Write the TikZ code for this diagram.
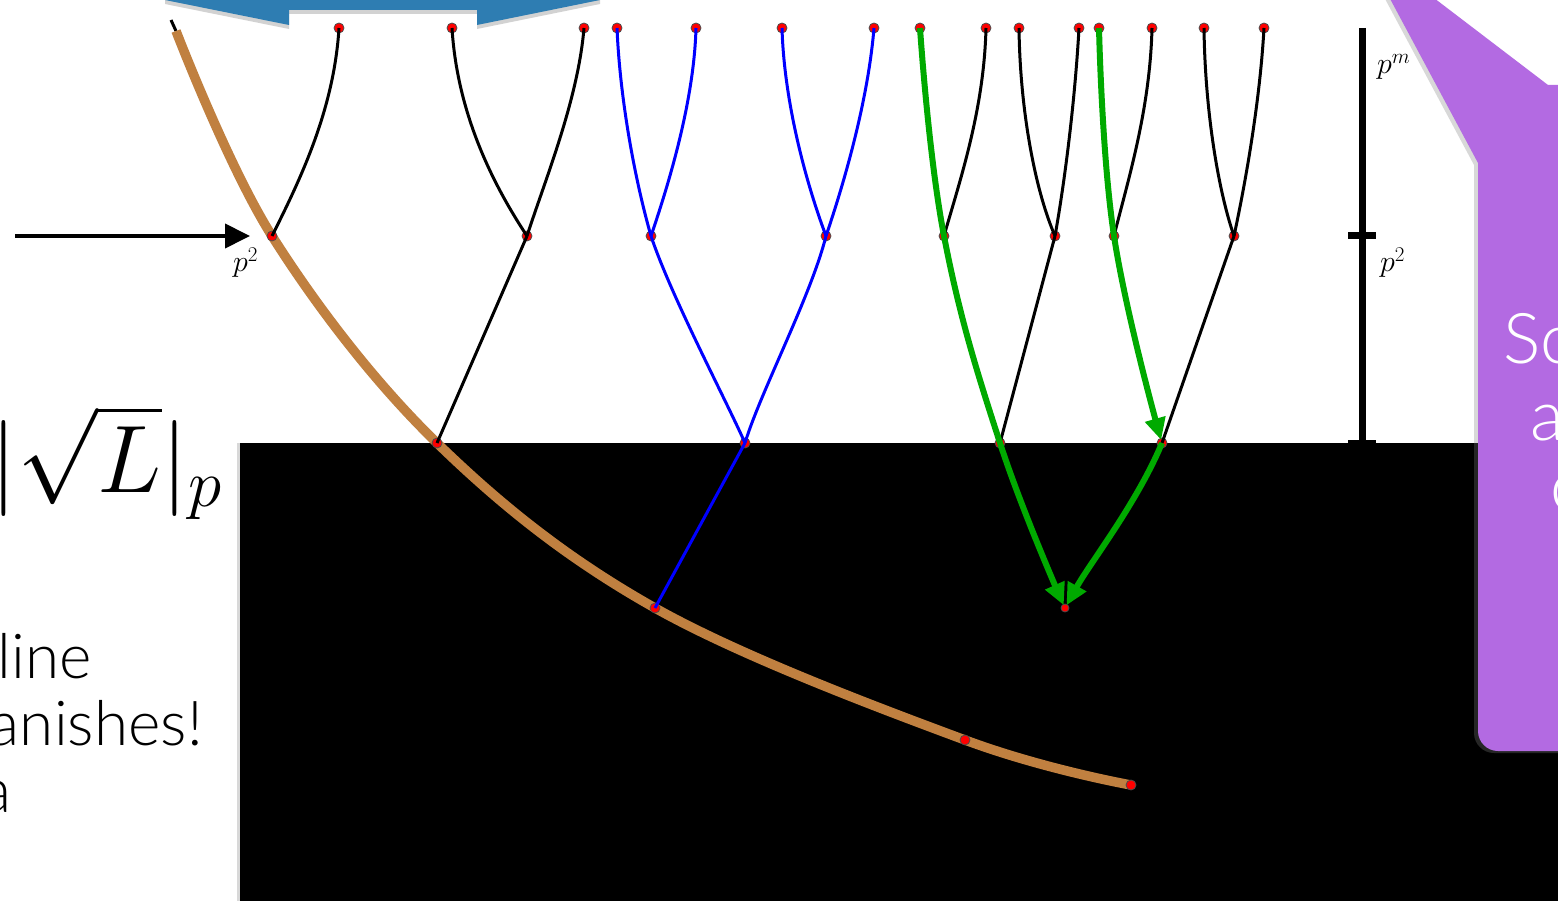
\RequirePackage{fix-cm}
\documentclass[tikz,border=0pt]{standalone}
\usepackage{amsmath}
\usepackage{fontspec}
\newfontfamily\slidefont{Lato Light}
\usetikzlibrary{arrows.meta, shadows}

\definecolor{arrowblue}{RGB}{46,125,178}
\definecolor{callpurple}{RGB}{179,106,226}
\definecolor{curvebrown}{RGB}{192,128,64}
\definecolor{treegreen}{RGB}{0,170,0}

\tikzset{
    dot/.style={circle, fill=red, draw=black!70, line width=0.8pt, inner sep=0pt, minimum size=10pt},
    branch/.style={line width=3pt},
    greenpath/.style={treegreen, line width=6pt, shorten >=3pt, -{Triangle[length=22pt,width=20pt]}},
    plabel/.style={anchor=base west, inner sep=0pt, font=\fontsize{30}{32}\selectfont},
    slidetext/.style={anchor=base east, inner sep=0pt, font=\slidefont\fontsize{62}{66}\selectfont},
    calltext/.style={anchor=base west, inner sep=0pt, text=white, font=\slidefont\fontsize{70}{74}\selectfont}
}

\begin{document}
\begin{tikzpicture}[x=1pt, y=-1pt]
    \useasboundingbox (0,0) rectangle (1558,901);
    \clip (0,0) rectangle (1558,901);
    \fill[white] (0,0) rectangle (1558,901);

    % double arrow at the top (cut off)
    \fill[arrowblue, drop shadow={shadow xshift=0pt, shadow yshift=-4pt, opacity=0.35}]
        (165,-10) -- (165,0) -- (289,25) -- (289,10) -- (477,10) -- (477,25) -- (600,0) -- (600,-10) -- cycle;

    % scale bar
    \coordinate (bartop) at (1362,28);
    \coordinate (barbot) at (1362,447);
    \draw[line width=7pt] (bartop) -- (barbot);
    \draw[line width=7pt] (1348,236) -- (1376,236);
    \draw[line width=7pt] (1348,443) -- (1376,443);
    \node[plabel] (pm) at (1377,74) {$p^m$};
    \node[plabel] (ptwo) at (1380,272) {$p^2$};

    % black region
    \fill[black, drop shadow={shadow xshift=-3pt, shadow yshift=0pt, opacity=0.3}]
        (240,443) rectangle (1600,920);

    % callout
    \fill[callpurple, drop shadow={shadow xshift=-4pt, shadow yshift=-2pt, opacity=0.3}]
        (1388,-5) -- (1478,163) -- (1548,85) -- (1430,-5) -- cycle
        [rounded corners=20pt] (1478,85) rectangle (1620,751);
    \node[calltext] (c1txt) at (1503,363) {Sc};
    \node[calltext] (c2txt) at (1530,440) {a};
    \node[calltext] (c3txt) at (1550,510) {c};

    % tree vertices
    \foreach \x [count=\i] in {339,452,584,617,696,782,874,920,986,1019,1079,1099,1152,1204,1264}
        \coordinate (a\i) at (\x,28);
    \foreach \x [count=\i] in {272,527,651,826,944,1055,1114,1234}
        \coordinate (b\i) at (\x,236);
    \foreach \x [count=\i] in {437,745,1000,1162}
        \coordinate (c\i) at (\x,443);
    \coordinate (d1) at (655,608);
    \coordinate (d2) at (1065,608);
    \coordinate (e00) at (171,20);
    \coordinate (e0) at (176,31);
    \coordinate (e1) at (965,740);
    \coordinate (e2) at (1131,785);

    % brown curve
    \draw[line width=3pt] (e00) -- (e0);
    \draw[curvebrown, line width=9.5pt] plot[smooth, tension=0.6] coordinates {(e0) (b1) (c1) (d1) (e1) (e2)};

    % dots
    \foreach \i in {1,...,15} \node[dot] at (a\i) {};
    \foreach \i in {1,...,8} \node[dot] at (b\i) {};
    \foreach \i in {1,...,4} \node[dot] at (c\i) {};
    \foreach \n in {d1,e1,e2} \node[dot] at (\n) {};
    \node[dot, minimum size=8pt] at (d2) {};

    % black branches
    \draw[branch] (a1) .. controls +(-5,82) and +(28,-56) .. (b1);
    \draw[branch] (a2) .. controls +(5,82) and +(-37,-56) .. (b2);
    \draw[branch] (a3) .. controls +(-6,72) and +(18,-56) .. (b2);
    \draw[branch] (b2) -- (c1);
    \draw[branch] (a9) .. controls +(-2,82) and +(16,-56) .. (b5);
    \draw[branch] (a10) .. controls +(1,82) and +(-20,-46) .. (b6);
    \draw[branch] (a11) .. controls +(-4,72) and +(10,-56) .. (b6);
    \draw[branch] (a13) .. controls +(-2,82) and +(14,-56) .. (b7);
    \draw[branch] (a14) .. controls +(1,82) and +(-16,-46) .. (b8);
    \draw[branch] (a15) .. controls +(-4,72) and +(12,-56) .. (b8);
    \draw[branch] (b6) -- (c3);
    \draw[branch] (b8) -- (c4);

    % blue branches
    \draw[branch, blue] (a4) .. controls +(3,72) and +(-16,-56) .. (b3);
    \draw[branch, blue] (a5) .. controls +(-2,72) and +(19,-56) .. (b3);
    \draw[branch, blue] (a6) .. controls +(2,72) and +(-21,-56) .. (b4);
    \draw[branch, blue] (a7) .. controls +(-6,72) and +(19,-56) .. (b4);
    \draw[branch, blue] (b3) .. controls +(20,60) and +(-20,-45) .. (c2);
    \draw[branch, blue] (b4) .. controls +(-15,60) and +(15,-50) .. (c2);
    \draw[branch, blue] (c2) -- (d1);

    % green paths
    \draw[greenpath] plot[smooth, tension=0.7] coordinates {(a8) (b5) (c3) (d2)};
    \draw[greenpath] plot[smooth, tension=0.7] coordinates {(a12) (b7) (c4)};
    \draw[greenpath] (c4) .. controls +(-25,60) and +(25,-45) .. (d2);

    % left arrow and labels
    \coordinate (arrtail) at (15,236);
    \coordinate (arrtip) at (250,236);
    \draw[line width=4pt, -{Triangle[length=25pt,width=24pt]}] (arrtail) -- (arrtip);
    \node[plabel] (pleft) at (233,272) {$p^2$};

    \node[anchor=base east, inner sep=0pt, font=\fontsize{96}{100}\selectfont] (norm) at (222,492) {$|\sqrt{L}|_p$};
    \node[slidetext] (line1) at (92,678) {line};
    \node[slidetext] (line2) at (203,745) {anishes!};
    \node[slidetext] (line3) at (12,812) {a};
\end{tikzpicture}
\end{document}
